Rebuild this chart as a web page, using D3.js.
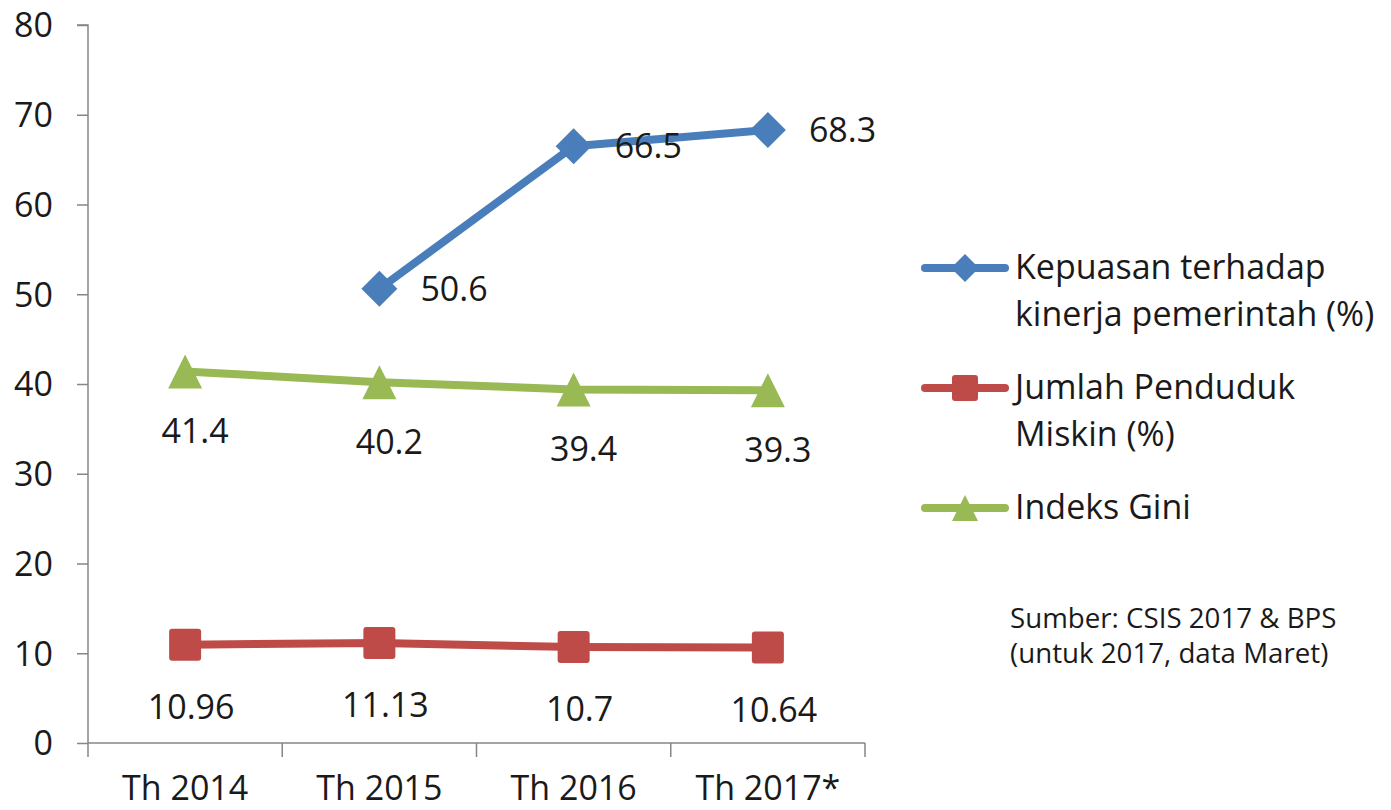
<!DOCTYPE html>
<html>
<head>
<meta charset="utf-8">
<script src="https://cdn.jsdelivr.net/npm/d3@7"></script>
<style>
  html, body { margin: 0; padding: 0; background: #fff; }
  svg { display: block; }
  text { font-family: "Open Sans", sans-serif; fill: #1a1a1a; }
</style>
</head>
<body>
<svg id="chart" width="1391" height="810"></svg>
<script>
// ---- data ----
const categories = ["Th 2014", "Th 2015", "Th 2016", "Th 2017*"];
const kepuasan = [null, 50.6, 66.5, 68.3];
const miskin = [10.96, 11.13, 10.7, 10.64];
const gini = [41.4, 40.2, 39.4, 39.3];
const miskinLabels = ["10.96", "11.13", "10.7", "10.64"];
const giniLabels = ["41.4", "40.2", "39.4", "39.3"];
const kepuasanLabels = [null, "50.6", "66.5", "68.3"];
const yTicks = [0, 10, 20, 30, 40, 50, 60, 70, 80];
const legendNames = [
  ["Kepuasan terhadap", "kinerja pemerintah (%)"],
  ["Jumlah Penduduk", "Miskin (%)"],
  ["Indeks Gini"]
];
const sourceLines = ["Sumber: CSIS 2017 & BPS", "(untuk 2017, data Maret)"];

// ---- styles ----
const colors = { blue: "#4A7EBB", red: "#BE4B48", green: "#98B954" };
const axisColor = "#868686";

const svg = d3.select("#chart");
const x = d3.scaleBand().domain(categories).range([88, 865]).paddingInner(0).paddingOuter(0);
const y = d3.scaleLinear().domain([0, 80]).range([743, 25]);
const cx = c => x(c) + x.bandwidth() / 2;

// Y axis
const yAxis = svg.append("g").attr("transform", "translate(88,0)")
  .call(d3.axisLeft(y).tickValues(yTicks).tickSize(11).tickPadding(24).tickFormat(d3.format("d")));
yAxis.select(".domain").attr("stroke", axisColor).attr("stroke-width", 1.5).attr("d", `M-11,${y(80)}H0V${y(0)}`);
yAxis.selectAll(".tick line").attr("stroke", axisColor).attr("stroke-width", 1.5);
yAxis.selectAll(".tick text").attr("font-size", 34).attr("font-family", "Open Sans").attr("fill", "#1a1a1a").attr("dy", "0.35em");

// X axis
const xAxis = svg.append("g").attr("transform", `translate(0,${y(0)})`);
xAxis.append("line").attr("x1", 88).attr("x2", 865).attr("y1", 0).attr("y2", 0)
  .attr("stroke", axisColor).attr("stroke-width", 1.5);
const bounds = categories.map(c => x(c)).concat([x(categories[categories.length - 1]) + x.bandwidth()]);
xAxis.selectAll("line.b").data(bounds).join("line").attr("class", "b")
  .attr("x1", d => d).attr("x2", d => d).attr("y1", 0).attr("y2", 14)
  .attr("stroke", axisColor).attr("stroke-width", 1.5);
xAxis.selectAll("text").data(categories).join("text")
  .attr("x", d => cx(d)).attr("y", 57).attr("text-anchor", "middle")
  .attr("font-size", 34).text(d => d);

// lines
function drawSeries(values, color) {
  const pts = categories.map((c, i) => ({ c, v: values[i] }));
  const line = d3.line().defined(d => d.v != null).x(d => cx(d.c)).y(d => y(d.v));
  svg.append("path").datum(pts).attr("d", line).attr("fill", "none")
    .attr("stroke", color).attr("stroke-width", 8).attr("stroke-linejoin", "round");
  return pts.filter(d => d.v != null);
}

const symDiamond = { draw(ctx, size) { const r = size; ctx.moveTo(0, -r); ctx.lineTo(r, 0); ctx.lineTo(0, r); ctx.lineTo(-r, 0); ctx.closePath(); } };
const symSquare = { draw(ctx, size) { const r = size; ctx.moveTo(-r, -r + 3); ctx.arcTo(-r, -r, -r + 3, -r, 3); ctx.lineTo(r - 3, -r); ctx.arcTo(r, -r, r, -r + 3, 3); ctx.lineTo(r, r - 3); ctx.arcTo(r, r, r - 3, r, 3); ctx.lineTo(-r + 3, r); ctx.arcTo(-r, r, -r, r - 3, 3); ctx.closePath(); } };
const symTri = { draw(ctx, size) { const r = size; ctx.moveTo(0, -r); ctx.lineTo(r, r); ctx.lineTo(-r, r); ctx.closePath(); } };

// green
const gPts = drawSeries(gini, colors.green);
svg.selectAll("path.gm").data(gPts).join("path").attr("class", "gm")
  .attr("transform", d => `translate(${cx(d.c)},${y(d.v)})`)
  .attr("d", d3.symbol(symTri, 17)).attr("fill", colors.green);
svg.selectAll("text.gl").data(gPts).join("text").attr("class", "gl")
  .attr("x", d => cx(d.c) + 10).attr("y", d => y(d.v) + 72).attr("text-anchor", "middle")
  .attr("font-size", 34).text((d, i) => giniLabels[i]);

// red
const rPts = drawSeries(miskin, colors.red);
svg.selectAll("path.rm").data(rPts).join("path").attr("class", "rm")
  .attr("transform", d => `translate(${cx(d.c)},${y(d.v)})`)
  .attr("d", d3.symbol(symSquare, 16)).attr("fill", colors.red);
svg.selectAll("text.rl").data(rPts).join("text").attr("class", "rl")
  .attr("x", d => cx(d.c) + 6).attr("y", d => y(d.v) + 74).attr("text-anchor", "middle")
  .attr("font-size", 34).text((d, i) => miskinLabels[i]);

// blue
const bPts = drawSeries(kepuasan, colors.blue);
svg.selectAll("path.bm").data(bPts).join("path").attr("class", "bm")
  .attr("transform", d => `translate(${cx(d.c)},${y(d.v)})`)
  .attr("d", d3.symbol(symDiamond, 18)).attr("fill", colors.blue);
const bLab = kepuasanLabels.filter(d => d != null);
svg.selectAll("text.bl").data(bPts).join("text").attr("class", "bl")
  .attr("x", d => cx(d.c) + 41).attr("y", d => y(d.v) + 12).attr("text-anchor", "start")
  .attr("font-size", 34).text((d, i) => bLab[i]);

// legend
const legendY = [268, 388, 508];
const legendColors = [colors.blue, colors.red, colors.green];
const legendSyms = [[symDiamond, 14], [symSquare, 13], [symTri, 13]];
legendNames.forEach((lines, i) => {
  const g = svg.append("g").attr("transform", `translate(0,${legendY[i]})`);
  g.append("line").attr("x1", 925).attr("x2", 1005).attr("y1", 0).attr("y2", 0)
    .attr("stroke", legendColors[i]).attr("stroke-width", 8).attr("stroke-linecap", "round");
  g.append("path").attr("transform", "translate(965,0)")
    .attr("d", d3.symbol(legendSyms[i][0], legendSyms[i][1])).attr("fill", legendColors[i]);
  lines.forEach((t, j) => {
    g.append("text").attr("x", 1015).attr("y", 11 + j * 47).attr("font-size", 34).text(t);
  });
});

// source
sourceLines.forEach((t, j) => {
  svg.append("text").attr("x", 1010).attr("y", 628 + j * 35)
    .attr("font-family", "Lato").attr("font-size", 27.7).text(t);
});
</script>
</body>
</html>
